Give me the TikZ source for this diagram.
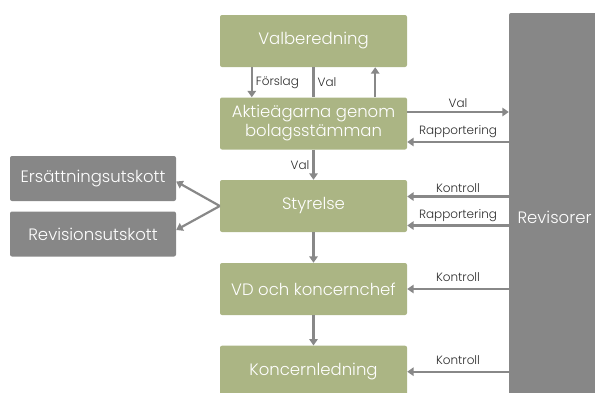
\documentclass[tikz,border=0pt]{standalone}
\usepackage{fontspec}
\setmainfont{Poppins Light}
\usetikzlibrary{arrows.meta}
\usetikzlibrary{positioning}
\definecolor{mgreen}{RGB}{171,181,132}
\definecolor{mgray}{RGB}{135,135,135}
\definecolor{mline}{RGB}{136,136,136}
\definecolor{mtext}{RGB}{45,45,45}
\tikzset{gbox/.style = {fill = mgreen, rounded corners = 2, text = white, inner sep = 0,
    minimum width = 187, minimum height = 52, align = center,
    font = \fontsize{16.5}{19}\selectfont}}
\tikzset{sbox/.style = {fill = mgray, rounded corners = 2, text = white, inner sep = 0,
    minimum width = 166, minimum height = 45, font = \fontsize{16.5}{19}\selectfont}}
\tikzset{arr/.style = {draw = mline, line width = 2.2, -{Triangle[length = 6.5, width = 8.5]}}}
\tikzset{plain/.style = {draw = mline, line width = 2.2}}
\tikzset{lbl/.style = {text = mtext, inner sep = 3, font = \fontsize{12}{13}\selectfont}}

\begin{document}
\begin{tikzpicture}[x=1pt, y=-1pt]
      \useasboundingbox (0, 0) rectangle (595, 392);
      \clip (0, 0) rectangle (595, 392);

      \node [gbox] (valb) at (313.5, 41) {Valberedning};
      \node [gbox] (aktie) at (313.5, 123.5) {Aktieägarna genom\\bolagsstämman};
      \node [gbox] (styr) at (313.5, 206) {Styrelse};
      \node [gbox] (vd) at (313.5, 289) {VD och koncernchef};
      \node [gbox] (koncern) at (313.5, 371.7) {Koncernledning};
      \node [sbox] (ersatt) at (93, 178.5) {Ersättningsutskott};
      \node [sbox] (revut) at (93, 234) {Revisionsutskott};
      \node [sbox, minimum width = 91, minimum height = 408] (revis) at (554.5, 217) {Revisorer};

      \draw [arr] ([xshift = 32]valb.south west) -- node [lbl, right] {Förslag} ([xshift = 32]aktie.north west);
      \draw [plain] (valb.south) -- node [lbl, right] {Val} (aktie.north);
      \draw [arr] ([xshift = -32]aktie.north east) -- ([xshift = -32]valb.south east);
      \draw [arr] (aktie.south) -- node [lbl, left] {Val} (styr.north);
      \draw [arr] (styr.south) -- (vd.north);
      \draw [arr] (vd.south) -- (koncern.north);

      \draw [arr] (styr.west) -- ([yshift = -3]ersatt.east);
      \draw [arr] (styr.west) -- ([yshift = 4]revut.east);

      \coordinate (a1) at ([yshift = 11.5]aktie.east);
      \coordinate (a2) at ([yshift = -18.5]aktie.east);
      \coordinate (s1) at ([yshift = 9.5]styr.east);
      \coordinate (s2) at ([yshift = -19.5]styr.east);
      \draw [arr] (a1) -- node [lbl, above] {Val} (a1 -| revis.west);
      \draw [arr] (a2 -| revis.west) -- node [lbl, above] {Rapportering} (a2);
      \draw [arr] (s1 -| revis.west) -- node [lbl, above] {Kontroll} (s1);
      \draw [arr] (s2 -| revis.west) -- node [lbl, above] {Rapportering} (s2);
      \draw [arr] (vd.east -| revis.west) -- node [lbl, above, yshift = 3] {Kontroll} (vd.east);
      \draw [arr] (koncern.east -| revis.west) -- node [lbl, above, yshift = 3] {Kontroll} (koncern.east);
\end{tikzpicture}
\end{document}
